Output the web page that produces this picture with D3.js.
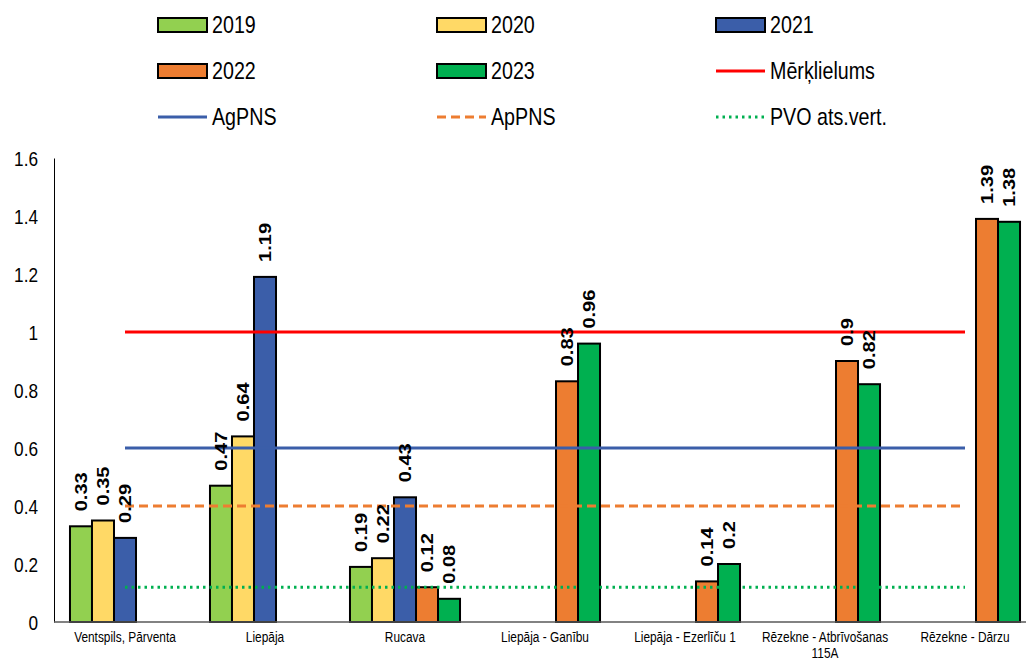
<!DOCTYPE html>
<html><head><meta charset="utf-8">
<script src="https://cdn.jsdelivr.net/npm/d3@7"></script>
<style>
html,body{margin:0;padding:0;background:#fff;}
svg{display:block;}
text{font-family:"Liberation Sans",Arial,sans-serif;fill:#000;}
.lbl{font-weight:bold;}
</style>
</head><body>
<svg id="c" width="1026" height="661"></svg>
<script>
const categories = ["Ventspils, Pārventa","Liepāja","Rucava","Liepāja - Ganību","Liepāja - Ezerlīču 1","Rēzekne - Atbrīvošanas 115A","Rēzekne - Dārzu"];
const seriesNames = ["2019","2020","2021","2022","2023"];
const v2019 = [0.33,0.47,0.19,null,null,null,null];
const v2020 = [0.35,0.64,0.22,null,null,null,null];
const v2021 = [0.29,1.19,0.43,null,null,null,null];
const v2022 = [null,null,0.12,0.83,0.14,0.9,1.39];
const v2023 = [null,null,0.08,0.96,0.2,0.82,1.38];
const lineNames = ["Mērķlielums","AgPNS","ApPNS","PVO ats.vert."];
const lineValues = [1.0,0.6,0.4,0.12];
const yTicks = [0,0.2,0.4,0.6,0.8,1,1.2,1.4,1.6];

const barColors = ["#92D050","#FFD966","#3B5EA9","#ED7D31","#00B050"];
const lineStyles = [
  {color:"#FF0000",dash:null},
  {color:"#3B5EA9",dash:null},
  {color:"#ED7D31",dash:"9,5"},
  {color:"#00B050",dash:"2.5,4"}
];
const seriesVals = [v2019,v2020,v2021,v2022,v2023];
const NARROW = 0.82;

const svg = d3.select("#c");
const x = d3.scaleBand().domain(categories).range([55,1035]).padding(0);
const bw = x.bandwidth();
const x1 = d3.scaleBand().domain(seriesNames).range([bw*0.107, bw*0.893]).padding(0);
const y = d3.scaleLinear().domain([0,1.6]).range([622,158]);

// y axis
const yAxis = d3.axisLeft(y).tickValues(yTicks).tickSize(0).tickPadding(0).tickFormat(d=>String(d));
const gy = svg.append("g").attr("transform","translate(54,0)").call(yAxis);
gy.select(".domain").attr("stroke","#000").attr("stroke-width",1);
gy.selectAll(".tick text").attr("font-size",21).attr("fill","#000")
  .attr("x",0).attr("dy","0.35em")
  .attr("transform",`translate(-16,0) scale(${NARROW},1)`)
  .style("font-family",'"Liberation Sans",Arial,sans-serif');

// bars
const data = [];
categories.forEach((c,i)=>seriesNames.forEach((s,j)=>{
  const v = seriesVals[j][i];
  if(v!==null) data.push({c,s,j,v});
}));
svg.append("g").selectAll("rect").data(data).join("rect")
  .attr("x",d=>x(d.c)+x1(d.s))
  .attr("width",x1.bandwidth())
  .attr("y",d=>y(d.v))
  .attr("height",d=>y(0)-y(d.v))
  .attr("fill",d=>barColors[d.j])
  .attr("stroke","#000").attr("stroke-width",2);

// x axis line
svg.append("line").attr("x1",54).attr("x2",1026).attr("y1",y(0)).attr("y2",y(0))
  .attr("stroke","#595959").attr("stroke-width",1.5);

// reference lines
const first = x(categories[0])+bw/2, last = x(categories[categories.length-1])+bw/2;
lineValues.forEach((v,i)=>{
  const l = svg.append("line").attr("x1",first).attr("x2",last).attr("y1",y(v)).attr("y2",y(v))
    .attr("stroke",lineStyles[i].color).attr("stroke-width",3);
  if(lineStyles[i].dash) l.attr("stroke-dasharray",lineStyles[i].dash);
});

// data labels
svg.append("g").selectAll("text").data(data).join("text")
  .attr("class","lbl")
  .attr("transform",d=>`translate(${x(d.c)+x1(d.s)+x1.bandwidth()/2},${y(d.v)-15}) rotate(-90) scale(1.18,1)`)
  .attr("dy","0.35em").attr("text-anchor","start")
  .attr("font-size",17)
  .text(d=>String(d.v));

// category labels
const cg = svg.append("g");
categories.forEach(c=>{
  const cx = x(c)+bw/2;
  const t = cg.append("text").attr("transform",`translate(${cx},642) scale(${NARROW},1)`)
    .attr("text-anchor","middle").attr("font-size",14.5);
  const words = c.split(" ");
  let line = [], ts = t.append("tspan").attr("x",0).attr("dy",0);
  words.forEach(w=>{
    line.push(w); ts.text(line.join(" "));
    if(ts.node().getComputedTextLength()*NARROW>bw && line.length>1){
      line.pop(); ts.text(line.join(" "));
      line=[w];
      ts = t.append("tspan").attr("x",0).attr("dy",16).text(w);
    }
  });
});

// legend
const legendItems = seriesNames.map((s,i)=>({name:s,type:"bar",color:barColors[i]}))
  .concat(lineNames.map((n,i)=>({name:n,type:"line",style:lineStyles[i]})));
const colX = [158,437,716], rowY = [25,71,117];
const lg = svg.append("g");
legendItems.forEach((it,k)=>{
  const cx = colX[k%3], cy = rowY[Math.floor(k/3)];
  if(it.type==="bar"){
    lg.append("rect").attr("x",cx).attr("y",cy-7).attr("width",49).attr("height",14)
      .attr("fill",it.color).attr("stroke","#000").attr("stroke-width",2);
  } else {
    const l = lg.append("line").attr("x1",cx).attr("x2",cx+49).attr("y1",cy).attr("y2",cy)
      .attr("stroke",it.style.color).attr("stroke-width",3);
    if(it.style.dash) l.attr("stroke-dasharray",it.style.dash);
  }
  lg.append("text").attr("transform",`translate(${cx+54},${cy}) scale(${NARROW},1)`)
    .attr("dy","0.35em").attr("font-size",24).text(it.name);
});
</script>
</body></html>
